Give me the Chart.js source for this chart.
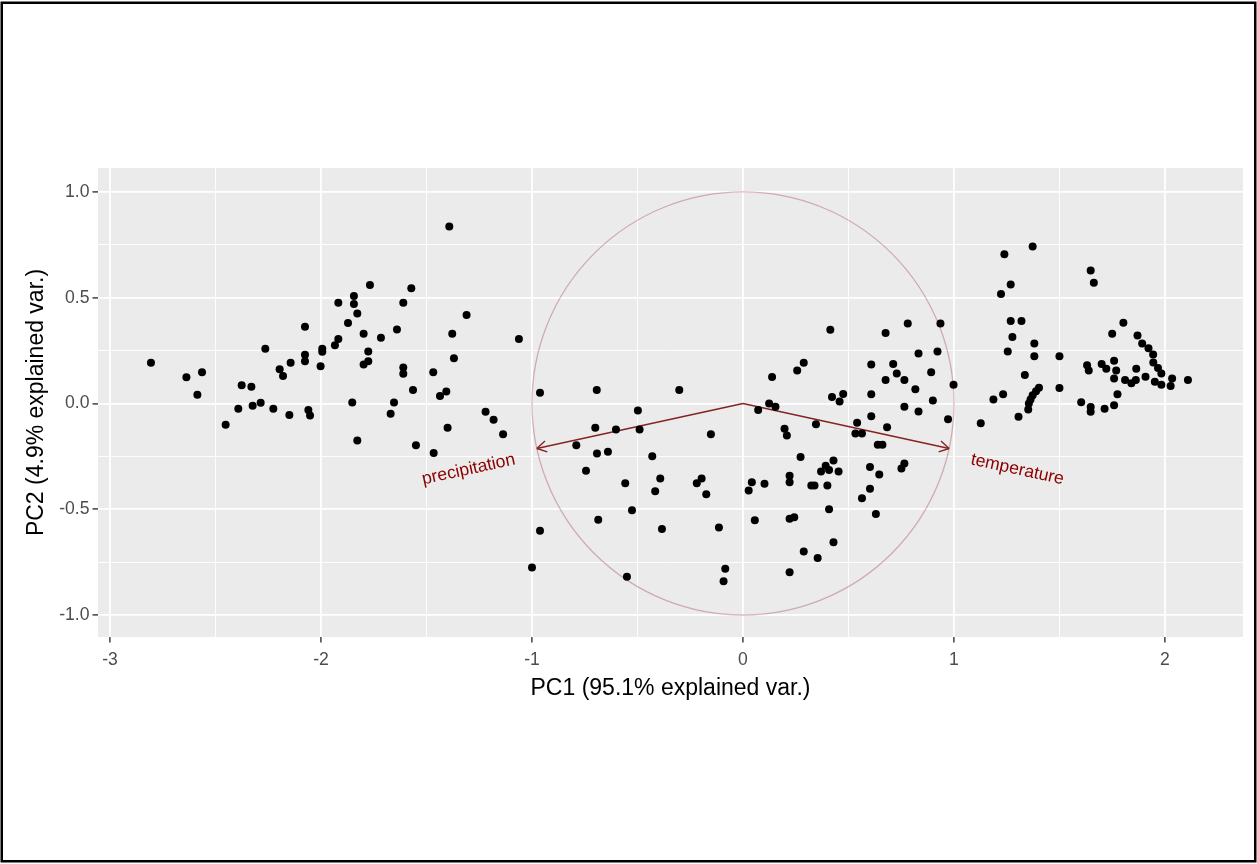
<!DOCTYPE html>
<html><head><meta charset="utf-8">
<script src="https://cdn.jsdelivr.net/npm/chart.js@4.4.1/dist/chart.umd.min.js"></script>
<style>html,body{margin:0;padding:0;background:#fff;}canvas{display:block;}</style>
</head><body>
<canvas id="c" width="1257" height="864"></canvas>
<script>
const pc1 = [
-2.806,-2.638,-2.564,-2.586,-2.452,-2.392,-2.376,-2.330,-2.324,-2.286,-2.264,-2.226,-2.196,-2.180,-2.144,-2.150,-2.076,-2.076,-2.076,-2.060,-2.052,-1.994,-1.994,-2.002,
-1.934,-1.918,-1.918,-1.392,-1.768,-1.572,-1.844,-1.844,-1.610,-1.828,-1.872,-1.310,-1.798,-1.716,-1.640,-1.378,-1.062,-1.776,-1.776,-1.798,-1.370,-1.610,-1.610,-1.468,-1.564,-1.406,-1.436,-1.852,-1.654,-1.670,-1.220,-1.182,-1.400,-1.137,-1.828,-1.550,-1.466,
-0.962,-0.693,-0.302,-0.498,-0.700,-0.602,-0.490,-0.152,-0.790,-0.692,-0.640,-0.430,-0.744,-0.558,-0.392,-0.416,-0.219,-0.196,-0.174,0.027,-0.526,-0.686,-0.384,-0.114,-0.962,-1.000,-0.550,-0.084,-0.092,
0.414,0.676,0.781,0.936,0.832,0.922,0.288,0.257,0.138,0.608,0.712,0.729,0.676,0.765,0.892,0.998,0.817,0.608,0.475,0.422,0.458,0.124,0.154,0.072,0.900,0.765,0.832,0.608,0.972,0.541,0.683,0.346,0.197,0.208,0.533,0.564,0.639,0.661,0.273,0.429,0.392,0.370,0.408,0.453,0.602,0.646,0.751,0.765,0.042,0.102,0.221,0.221,0.324,0.339,0.400,0.602,0.564,0.630,0.408,0.056,0.221,0.243,0.429,0.288,0.354,0.221,
1.373,1.239,1.648,1.663,1.269,1.223,1.269,1.320,1.277,1.381,1.255,1.381,1.500,1.336,1.233,1.187,1.403,1.389,1.373,1.363,1.355,1.352,1.306,1.127,1.500,1.803,1.750,1.870,1.892,1.922,1.944,1.945,1.967,1.983,1.759,1.631,1.639,1.700,1.722,1.769,1.759,1.811,1.841,1.862,1.864,1.908,1.952,1.983,2.034,2.027,2.109,1.775,1.603,1.648,1.648,1.714,1.759
];
const pc2 = [
0.192,0.124,0.148,0.041,-0.101,-0.025,0.086,0.079,-0.011,0.003,0.258,-0.025,0.162,0.130,0.192,-0.055,0.363,0.230,0.200,-0.031,-0.057,0.258,0.244,0.176,
0.275,0.305,0.476,0.836,0.560,0.544,0.508,0.470,0.476,0.425,0.380,0.418,0.329,0.311,0.349,0.329,0.305,0.245,0.200,0.184,0.214,0.170,0.140,0.148,0.064,0.057,0.035,0.005,0.005,-0.049,-0.039,-0.077,-0.115,-0.145,-0.175,-0.197,-0.234,
0.050,0.064,0.064,-0.033,-0.115,-0.123,-0.123,-0.145,-0.198,-0.236,-0.228,-0.250,-0.318,-0.377,-0.355,-0.415,-0.377,-0.355,-0.429,-0.412,-0.505,-0.550,-0.594,-0.586,-0.602,-0.775,-0.819,-0.781,-0.841,
0.348,0.333,0.378,0.378,0.236,0.245,0.192,0.156,0.125,0.184,0.186,0.141,0.111,0.111,0.148,0.088,0.067,0.044,0.045,0.030,0.009,0.000,-0.016,-0.031,0.014,-0.016,-0.038,-0.061,-0.075,-0.091,-0.113,-0.098,-0.119,-0.152,-0.142,-0.142,-0.195,-0.195,-0.253,-0.270,-0.294,-0.322,-0.314,-0.322,-0.300,-0.336,-0.308,-0.284,-0.372,-0.380,-0.342,-0.373,-0.388,-0.388,-0.388,-0.403,-0.448,-0.522,-0.500,-0.552,-0.545,-0.538,-0.656,-0.700,-0.730,-0.798,
0.742,0.705,0.629,0.570,0.562,0.517,0.390,0.390,0.314,0.283,0.246,0.223,0.223,0.134,0.043,0.019,0.074,0.058,0.039,0.019,0.000,-0.028,-0.063,-0.093,0.073,0.381,0.329,0.321,0.283,0.261,0.231,0.194,0.167,0.142,0.202,0.180,0.156,0.186,0.164,0.156,0.118,0.111,0.096,0.111,0.164,0.126,0.103,0.088,0.118,0.082,0.111,0.043,0.006,-0.017,-0.039,-0.025,-0.009
];
const varNames = ['precipitation', 'temperature'];
const varX = [-0.977, 0.977];
const varY = [-0.213, -0.213];
const circleRadius = 1;
const xMajorTicks = [-3, -2, -1, 0, 1, 2];
const xMinorTicks = [-2.5, -1.5, -0.5, 0.5, 1.5];
const xTickLabels = ['-3', '-2', '-1', '0', '1', '2'];
const yMajorTicks = [-1, -0.5, 0, 0.5, 1];
const yMinorTicks = [-0.75, -0.25, 0.25, 0.75];
const yTickLabels = ['-1.0', '-0.5', '0.0', '0.5', '1.0'];
const xTitle = 'PC1 (95.1% explained var.)';
const yTitle = 'PC2 (4.9% explained var.)';

const FONT = '"Liberation Sans", Arial, sans-serif';
Chart.defaults.font.family = FONT;

function isMajor(list, v) { return list.some(m => Math.abs(m - v) < 1e-9); }

const decor = {
  id: 'decor',
  beforeDraw(chart) {
    const {ctx, chartArea: a} = chart;
    ctx.save();
    ctx.fillStyle = '#FFFFFF';
    ctx.fillRect(0, 0, chart.width, chart.height);
    ctx.fillStyle = '#EBEBEB';
    ctx.fillRect(a.left, a.top, a.right - a.left, a.bottom - a.top);
    ctx.restore();
  },
  beforeDatasetsDraw(chart) {
    const {ctx} = chart;
    const xs = chart.scales.x, ys = chart.scales.y;
    const cx = xs.getPixelForValue(0), cy = ys.getPixelForValue(0);
    const rx = xs.getPixelForValue(circleRadius) - cx;
    const ry = cy - ys.getPixelForValue(circleRadius);
    ctx.save();
    ctx.strokeStyle = 'rgba(150,40,60,0.33)';
    ctx.lineWidth = 1.3;
    ctx.beginPath();
    ctx.ellipse(cx, cy, rx, ry, 0, 0, Math.PI * 2);
    ctx.stroke();
    ctx.strokeStyle = '#832424';
    ctx.lineWidth = 1.4;
    ctx.lineCap = 'butt';
    for (let i = 0; i < varNames.length; i++) {
      const tx = xs.getPixelForValue(varX[i]);
      const ty = ys.getPixelForValue(varY[i]);
      ctx.beginPath();
      ctx.moveTo(cx, cy);
      ctx.lineTo(tx, ty);
      ctx.stroke();
      const ang = Math.atan2(ty - cy, tx - cx);
      const L = 11;
      ctx.beginPath();
      for (const s of [-1, 1]) {
        const a2 = ang + Math.PI + s * Math.PI / 6;
        ctx.moveTo(tx, ty);
        ctx.lineTo(tx + L * Math.cos(a2), ty + L * Math.sin(a2));
      }
      ctx.stroke();
    }
    ctx.restore();
  },
  afterDatasetsDraw(chart) {
    const {ctx} = chart;
    const xs = chart.scales.x, ys = chart.scales.y;
    const cx = xs.getPixelForValue(0), cy = ys.getPixelForValue(0);
    ctx.save();
    ctx.fillStyle = '#8B0000';
    ctx.font = '17.6px ' + FONT;
    ctx.textBaseline = 'middle';
    ctx.textAlign = 'left';
    for (let i = 0; i < varNames.length; i++) {
      const tx = xs.getPixelForValue(varX[i]);
      const ty = ys.getPixelForValue(varY[i]);
      const rot = Math.atan((ty - cy) / (tx - cx));
      const hjust = (1 - 1.5 * Math.sign(varX[i])) / 2;
      const w = ctx.measureText(varNames[i]).width;
      ctx.save();
      ctx.translate(tx, ty);
      ctx.rotate(rot);
      ctx.fillText(varNames[i], -hjust * w, 6);
      ctx.restore();
    }
    ctx.restore();
  },
  afterDraw(chart) {
    const {ctx} = chart;
    ctx.save();
    ctx.strokeStyle = '#000000';
    ctx.lineWidth = 2.5;
    ctx.strokeRect(1.75, 2.75, 1253.5, 858.5);
    ctx.restore();
  }
};

new Chart(document.getElementById('c'), {
  type: 'scatter',
  data: {
    datasets: [{
      data: pc1.map((x, i) => ({x: x, y: pc2[i]})),
      backgroundColor: '#000000',
      borderWidth: 0,
      pointRadius: 4,
      pointHoverRadius: 4
    }]
  },
  options: {
    responsive: false,
    animation: false,
    devicePixelRatio: 1,
    events: [],
    layout: {padding: {left: 0, right: 14, top: 168, bottom: 157}},
    plugins: {legend: {display: false}, tooltip: {enabled: false}},
    scales: {
      x: {
        type: 'linear', min: -3.057, max: 2.370,
        afterBuildTicks: s => { s.ticks = [...xMajorTicks, ...xMinorTicks].sort((a, b) => a - b).map(v => ({value: v})); },
        afterFit: s => { s.height = 70; },
        border: {display: false},
        grid: {
          color: '#FFFFFF',
          lineWidth: c => (c.tick && isMajor(xMajorTicks, c.tick.value)) ? 1.8 : 0.9,
          tickLength: 5.5,
          tickWidth: 1.4,
          tickColor: c => (c.tick && isMajor(xMajorTicks, c.tick.value)) ? '#333333' : 'rgba(0,0,0,0)'
        },
        ticks: {
          autoSkip: false, maxRotation: 0, padding: 7, color: '#4D4D4D',
          font: {size: 17.6},
          callback: v => { const i = xMajorTicks.findIndex(m => Math.abs(m - v) < 1e-9); return i >= 0 ? xTickLabels[i] : ''; }
        },
        title: {display: true, text: xTitle, color: '#000000', font: {size: 23}, padding: {top: 0, bottom: 5}}
      },
      y: {
        type: 'linear', min: -1.104, max: 1.113,
        afterBuildTicks: s => { s.ticks = [...yMajorTicks, ...yMinorTicks].sort((a, b) => a - b).map(v => ({value: v})); },
        afterFit: s => { s.width = 98; },
        border: {display: false},
        grid: {
          color: '#FFFFFF',
          lineWidth: c => (c.tick && isMajor(yMajorTicks, c.tick.value)) ? 1.8 : 0.9,
          tickLength: 5.5,
          tickWidth: 1.4,
          tickColor: c => (c.tick && isMajor(yMajorTicks, c.tick.value)) ? '#333333' : 'rgba(0,0,0,0)'
        },
        ticks: {
          autoSkip: false, padding: 3, color: '#4D4D4D',
          font: {size: 17.6},
          callback: v => { const i = yMajorTicks.findIndex(m => Math.abs(m - v) < 1e-9); return i >= 0 ? yTickLabels[i] : ''; }
        },
        title: {display: true, text: yTitle, color: '#000000', font: {size: 23}, padding: {top: 23, bottom: 0}}
      }
    }
  },
  plugins: [decor]
});
</script>
</body></html>
